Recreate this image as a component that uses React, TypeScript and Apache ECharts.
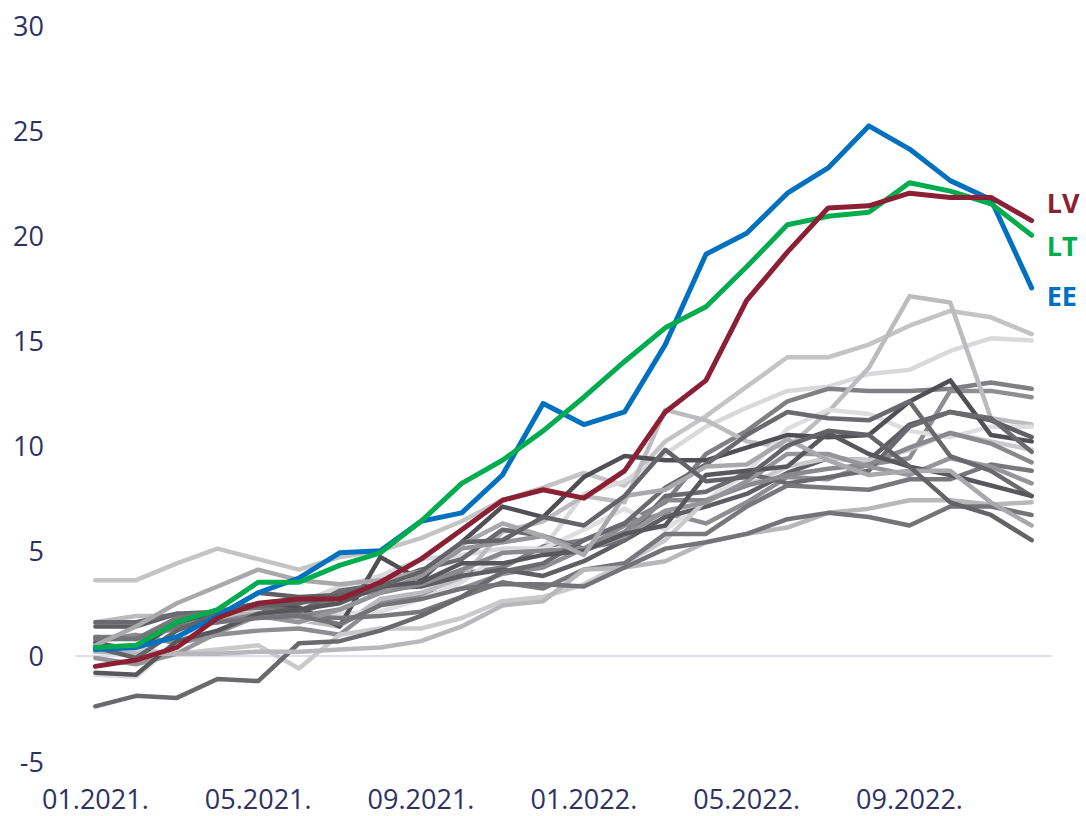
import React, { useEffect, useRef } from "react";
import * as echarts from "echarts";

const months = [
  "01.2021.", "02.2021.", "03.2021.", "04.2021.", "05.2021.", "06.2021.",
  "07.2021.", "08.2021.", "09.2021.", "10.2021.", "11.2021.", "12.2021.",
  "01.2022.", "02.2022.", "03.2022.", "04.2022.", "05.2022.", "06.2022.",
  "07.2022.", "08.2022.", "09.2022.", "10.2022.", "11.2022.", "12.2022.",
];

const yTicks = [-5, 0, 5, 10, 15, 20, 25, 30];

// Highlighted series
const LV = [-0.5, -0.2, 0.4, 1.8, 2.5, 2.7, 2.7, 3.5, 4.6, 6.0, 7.4, 7.9, 7.5, 8.8, 11.6, 13.1, 16.9, 19.2, 21.3, 21.4, 22.0, 21.8, 21.8, 20.7];
const LT = [0.4, 0.5, 1.6, 2.2, 3.5, 3.5, 4.3, 4.9, 6.4, 8.2, 9.3, 10.7, 12.3, 14.0, 15.6, 16.6, 18.5, 20.5, 20.9, 21.1, 22.5, 22.1, 21.5, 20.0];
const EE = [0.3, 0.4, 0.9, 1.9, 3.0, 3.7, 4.9, 5.0, 6.4, 6.8, 8.6, 12.0, 11.0, 11.6, 14.8, 19.1, 20.1, 22.0, 23.2, 25.2, 24.1, 22.6, 21.7, 17.5];

// Other countries (grey)
const PL = [3.6, 3.6, 4.4, 5.1, 4.6, 4.1, 4.7, 5.0, 5.6, 6.4, 7.4, 8.0, 8.7, 8.1, 10.2, 11.4, 12.8, 14.2, 14.2, 14.8, 15.7, 16.4, 16.1, 15.3];
const SK = [0.7, 0.9, 1.3, 1.7, 2.0, 2.5, 3.3, 3.8, 4.6, 4.8, 5.1, 5.1, 7.7, 8.3, 9.6, 10.9, 11.8, 12.6, 12.8, 13.4, 13.6, 14.5, 15.1, 15.0];
const HR = [0.2, 0.4, 1.5, 2.1, 2.2, 2.0, 2.8, 3.1, 3.5, 3.9, 4.2, 5.2, 5.5, 6.3, 7.3, 9.6, 10.7, 12.1, 12.7, 12.6, 12.6, 12.7, 13.0, 12.7];
const IT = [0.7, 1.0, 0.6, 1.0, 1.2, 1.3, 1.0, 2.5, 2.9, 3.2, 3.9, 4.2, 5.1, 6.2, 6.8, 6.3, 7.3, 8.5, 8.4, 9.1, 9.4, 12.6, 12.6, 12.3];
const NL = [1.6, 1.9, 1.9, 1.9, 2.0, 1.7, 1.4, 2.7, 3.0, 3.7, 5.9, 6.4, 7.6, 7.3, 11.7, 11.2, 10.2, 9.9, 11.6, 13.7, 17.1, 16.8, 11.3, 11.0];
const SI = [-0.9, -1.0, 0.6, 2.2, 2.2, 1.6, 2.0, 2.1, 2.7, 3.5, 4.9, 5.1, 6.0, 7.0, 6.0, 7.4, 8.7, 10.8, 11.7, 11.5, 10.7, 10.4, 10.9, 10.9];
const AT = [1.4, 1.4, 2.0, 1.9, 3.0, 2.8, 2.9, 3.2, 3.3, 3.8, 4.1, 3.8, 4.5, 5.5, 6.6, 7.1, 7.7, 8.7, 9.4, 9.3, 11.0, 11.6, 11.2, 10.4];
const BE = [0.6, 0.3, 1.6, 2.1, 2.5, 2.3, 1.4, 4.7, 3.6, 5.4, 7.1, 6.6, 8.5, 9.5, 9.3, 9.3, 9.9, 10.5, 10.4, 10.5, 12.1, 13.1, 10.5, 10.2];
const PT = [0.2, 0.3, 0.1, 0.3, 0.5, -0.6, 1.0, 1.3, 1.3, 1.8, 2.6, 2.8, 3.4, 4.4, 5.5, 7.4, 8.1, 9.0, 9.4, 9.3, 9.8, 10.6, 10.2, 9.8];
const DE = [1.6, 1.6, 2.0, 2.1, 2.4, 2.1, 3.1, 3.4, 4.1, 4.6, 6.0, 5.7, 5.1, 5.5, 7.6, 7.8, 8.7, 8.2, 8.5, 8.8, 10.9, 11.6, 11.3, 9.7];
const EA = [0.9, 0.9, 1.3, 1.6, 2.0, 1.9, 2.2, 3.0, 3.4, 4.1, 4.9, 5.0, 5.1, 5.9, 7.4, 7.4, 8.1, 8.6, 8.9, 9.1, 9.9, 10.6, 10.1, 9.2];
const FI = [0.9, 0.8, 1.8, 2.1, 2.3, 1.9, 1.8, 1.9, 2.1, 2.8, 3.5, 3.2, 4.1, 4.4, 5.8, 5.8, 7.1, 8.1, 8.0, 7.9, 8.4, 8.4, 9.1, 8.8];
const IE = [-0.1, -0.4, 0.1, 1.1, 1.9, 1.6, 2.2, 3.0, 3.8, 5.1, 5.4, 5.7, 5.0, 5.7, 6.9, 7.3, 8.3, 9.6, 9.6, 9.0, 8.6, 9.4, 9.0, 8.2];
const GR = [-2.4, -1.9, -2.0, -1.1, -1.2, 0.6, 0.7, 1.2, 1.9, 2.8, 4.0, 4.4, 5.5, 6.3, 8.0, 9.1, 10.5, 11.6, 11.3, 11.2, 12.1, 9.5, 8.8, 7.6];
const CY = [-0.8, -0.9, 0.7, 1.2, 2.0, 2.2, 2.5, 3.3, 3.5, 4.4, 4.4, 4.8, 5.0, 5.8, 6.2, 8.6, 8.8, 9.0, 10.6, 9.6, 9.0, 8.6, 8.1, 7.6];
const MT = [0.2, 0.1, 0.1, 0.1, 0.2, 0.2, 0.3, 0.4, 0.7, 1.4, 2.4, 2.6, 4.1, 4.2, 4.5, 5.4, 5.8, 6.1, 6.8, 7.0, 7.4, 7.4, 7.2, 7.3];
const FR = [0.8, 0.8, 1.4, 1.6, 1.8, 1.9, 1.5, 2.4, 2.7, 3.2, 3.4, 3.4, 3.3, 4.2, 5.1, 5.4, 5.8, 6.5, 6.8, 6.6, 6.2, 7.1, 7.1, 6.7];
const LU = [0.5, 1.4, 2.5, 3.3, 4.1, 3.6, 3.4, 3.6, 4.0, 5.3, 6.3, 5.7, 4.8, 7.6, 7.9, 9.0, 9.1, 10.3, 9.3, 8.6, 8.8, 8.8, 7.3, 6.2];
const ES = [0.4, -0.1, 1.2, 2.0, 2.4, 2.5, 2.9, 3.3, 4.0, 5.4, 5.5, 6.6, 6.2, 7.6, 9.8, 8.3, 8.5, 10.0, 10.7, 10.5, 9.0, 7.3, 6.7, 5.5];

const greyNames = ["PL", "SK", "HR", "IT", "NL", "SI", "AT", "BE", "PT", "DE", "EA", "FI", "IE", "GR", "CY", "MT", "FR", "LU", "ES"];
const greyData = [PL, SK, HR, IT, NL, SI, AT, BE, PT, DE, EA, FI, IE, GR, CY, MT, FR, LU, ES];
const greyColors = [
  "#c4c4c6", "#d9d9db", "#808084", "#8e8e92", "#bcbcbe", "#dededf", "#5f5f63",
  "#505054", "#cacacc", "#6b6b6f", "#8a8a8e", "#78787c", "#96969a", "#6a6a6e",
  "#58585c", "#b8b8ba", "#747478", "#a9a9ac", "#646468",
];

const highlightNames = ["EE", "LT", "LV"];
const highlightData = [EE, LT, LV];
const highlightColors = ["#0070c0", "#00ad4e", "#8b1f33"];
const highlightLabelOffsets: [number, number][] = [[15, 8], [15, 10], [15, -18]];

export default function App() {
  const ref = useRef<HTMLDivElement>(null);

  useEffect(() => {
    if (!ref.current) return;
    const chart = echarts.init(ref.current, undefined, { renderer: "svg" });

    const series: any[] = [];
    greyData.forEach((d, i) => {
      series.push({
        name: greyNames[i],
        type: "line",
        data: d,
        symbol: "none",
        lineStyle: { color: greyColors[i], width: 4.5, cap: "round", join: "round" },
        z: 2,
        ...(i === 0
          ? {
              markLine: {
                silent: true,
                symbol: "none",
                label: { show: false },
                lineStyle: { color: "#d3d3ec", width: 1.5, type: "solid" },
                data: [{ yAxis: 0 }],
                z: 1,
              },
            }
          : {}),
      });
    });
    highlightData.forEach((d, i) => {
      series.push({
        name: highlightNames[i],
        type: "line",
        data: d,
        symbol: "none",
        z: 3 + i,
        lineStyle: { color: highlightColors[i], width: 5, cap: "round", join: "round" },
        endLabel: {
          show: true,
          formatter: "{a}",
          color: highlightColors[i],
          fontFamily: "Open Sans",
          fontWeight: "bold",
          fontSize: 27,
          distance: 0,
          offset: highlightLabelOffsets[i],
        },
      });
    });

    chart.setOption({
      animation: false,
      backgroundColor: "#ffffff",
      grid: { left: 75, right: 34, top: 25, bottom: 55, containLabel: false },
      xAxis: {
        type: "category",
        data: months,
        boundaryGap: true,
        axisLine: { show: false, onZero: false },
        axisTick: { show: false },
        splitLine: { show: false },
        axisLabel: {
          interval: 3,
          color: "#2f3163",
          fontFamily: "Open Sans",
          fontSize: 27,
          margin: 24,
        },
      },
      yAxis: {
        type: "value",
        min: yTicks[0],
        max: yTicks[yTicks.length - 1],
        interval: 5,
        axisLine: { show: false },
        axisTick: { show: false },
        splitLine: { show: false },
        axisLabel: {
          color: "#2f3163",
          fontFamily: "Open Sans",
          fontSize: 27,
          margin: 31,
        },
      },
      series,
    });

    return () => chart.dispose();
  }, []);

  return (
    <div
      ref={ref}
      style={{ position: "absolute", left: 0, top: 0, width: 1086, height: 816 }}
    />
  );
}
